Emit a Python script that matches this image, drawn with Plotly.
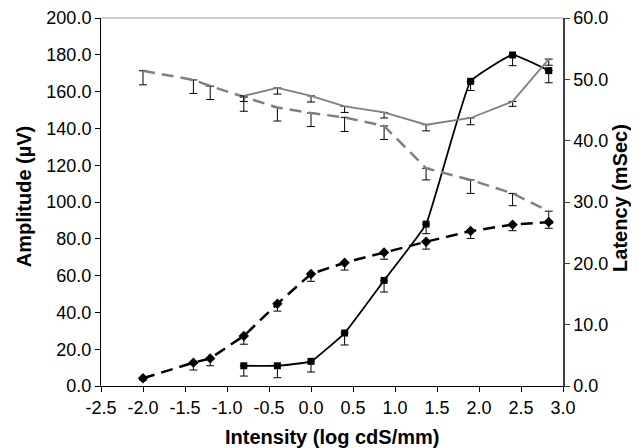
import plotly.graph_objects as go

# ---- data ----
x_full = [-2.0, -1.4, -1.2, -0.8, -0.4, 0.0, 0.4, 0.87, 1.37, 1.9, 2.4, 2.83]
x_part = [-0.8, -0.4, 0.0, 0.4, 0.87, 1.37, 1.9, 2.4, 2.83]

# amplitude (left axis, uV)
bwave_amp = [4.2, 12.7, 15.0, 27.2, 44.7, 60.9, 67.0, 72.6, 78.4, 84.2, 87.7, 89.1]
bwave_amp_err = [1.0, 4.0, 4.0, 4.5, 4.0, 4.0, 4.0, 3.7, 4.0, 4.0, 3.3, 3.4]
awave_amp = [11.0, 11.0, 13.4, 28.8, 57.4, 88.0, 165.6, 179.9, 171.4]
awave_amp_err = [5.6, 6.5, 5.8, 6.5, 6.3, 5.2, 5.0, 5.8, 6.6]

# latency (right axis, mSec)
bwave_lat = [51.4, 49.9, 48.9, 47.1, 45.4, 44.5, 43.8, 42.4, 35.5, 33.6, 31.4, 28.5]
bwave_lat_err = [2.3, 2.2, 2.2, 2.3, 2.2, 2.2, 2.3, 2.2, 1.9, 2.2, 2.0, 2.0]
awave_lat = [47.3, 48.6, 47.3, 45.6, 44.6, 42.6, 43.7, 46.4, 53.3]
awave_lat_err = [0.9, 1.0, 1.0, 1.0, 0.9, 1.0, 1.1, 0.8, 1.0]

x_ticks = [-2.5, -2.0, -1.5, -1.0, -0.5, 0.0, 0.5, 1.0, 1.5, 2.0, 2.5, 3.0]
x_ticktext = ["-2.5", "-2.0", "-1.5", "-1.0", "-0.5", "0.0", "0.5", "1.0", "1.5", "2.0", "2.5", "3.0"]

GRAY = "#808080"
FONT = "Liberation Sans, Arial, sans-serif"

def err(vals):
    return dict(type="data", symmetric=False, array=[0] * len(vals), arrayminus=vals,
                color="black", thickness=1, width=4)

fig = go.Figure()

fig.add_trace(go.Scatter(x=x_full, y=bwave_lat, yaxis="y2", mode="lines",
                         line=dict(color=GRAY, width=2.5, dash="12px,7px"),
                         error_y=err(bwave_lat_err), showlegend=False))
fig.add_trace(go.Scatter(x=x_part, y=awave_lat, yaxis="y2", mode="lines",
                         line=dict(color=GRAY, width=1.8),
                         error_y=err(awave_lat_err), showlegend=False))
fig.add_trace(go.Scatter(x=x_full, y=bwave_amp, mode="lines+markers",
                         line=dict(color="black", width=2.5, dash="12px,7px"),
                         marker=dict(symbol="diamond", size=8, color="black"),
                         error_y=err(bwave_amp_err), showlegend=False))
fig.add_trace(go.Scatter(x=x_part, y=awave_amp, mode="lines+markers",
                         line=dict(color="black", width=1.8, shape="spline", smoothing=0.3),
                         marker=dict(symbol="square", size=7, color="black"),
                         error_y=err(awave_amp_err), showlegend=False))

tickfont = dict(family=FONT, size=18, color="black")

# the page body adds an 8px offset; margins compensate so the plot area
# lands at x 101..563, y 18..386 in the window
fig.update_layout(
    width=639, height=448,
    margin=dict(l=93, r=84, t=10, b=70),
    paper_bgcolor="white", plot_bgcolor="white",
    xaxis=dict(range=[-2.5, 3.0], tickvals=x_ticks, ticktext=x_ticktext, automargin=False,
               showgrid=False, zeroline=False, showline=True, linecolor="black", linewidth=1,
               ticks="outside", ticklen=5, tickcolor="black", tickfont=tickfont),
    yaxis=dict(range=[0, 200], dtick=20, tickformat=".1f", automargin=False,
               showgrid=False, zeroline=False, showline=True, linecolor="black", linewidth=1,
               ticks="outside", ticklen=5, tickcolor="black", tickfont=tickfont),
    yaxis2=dict(range=[0, 60], dtick=10, tickformat=".1f", overlaying="y", side="right",
                automargin=False,
                showgrid=False, zeroline=False, showline=True, linecolor="#404040", linewidth=1.5,
                ticks="outside", ticklen=5, tickcolor="#404040", tickfont=tickfont),
    shapes=[dict(type="line", xref="paper", yref="paper", x0=0, x1=1, y0=1, y1=1,
                 line=dict(color="#a0a0a0", width=1))],
    annotations=[
        dict(text="<b>Intensity (log cdS/mm)</b>", xref="paper", yref="paper",
             x=0.5, y=-0.138, xanchor="center", yanchor="middle", showarrow=False,
             font=dict(family=FONT, size=20, color="black")),
        dict(text="<b>Amplitude (µV)</b>", xref="paper", yref="paper",
             x=-0.165, y=0.515, xanchor="center", yanchor="middle", textangle=-90, showarrow=False,
             font=dict(family=FONT, size=20, color="black")),
        dict(text="<b>Latency (mSec)</b>", xref="paper", yref="paper",
             x=1.122, y=0.512, xanchor="center", yanchor="middle", textangle=-90, showarrow=False,
             font=dict(family=FONT, size=20, color="black")),
    ],
)

fig.write_html("out.html")
